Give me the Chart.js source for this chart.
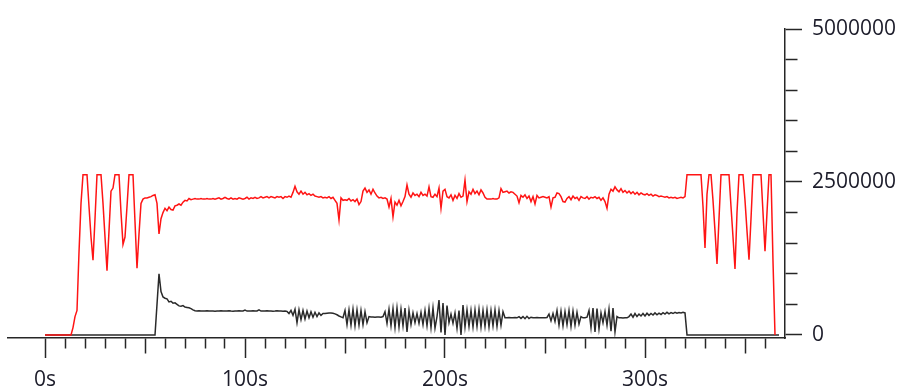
<!DOCTYPE html>
<html><head><meta charset="utf-8">
<script src="https://cdn.jsdelivr.net/npm/chart.js@4/dist/chart.umd.min.js"></script>
<style>html,body{margin:0;padding:0;background:#fff;overflow:hidden;}</style>
</head><body>
<canvas id="c" width="897" height="392"></canvas>
<script>
// sample time of the first value and step between samples (seconds)
const sampleStart = 0;
const sampleStep = 1;

// red series, one value per second, t = 0..365
const redValues = [
0,0,0,0,0,0,0,0,0,0,
0,0,0,0,120000,300000,400000,1350000,2150000,2620000,
2620000,2620000,2100000,1600000,1220000,1900000,2620000,2620000,2620000,2150000,
1600000,1050000,1700000,2350000,2400000,2620000,2620000,2620000,2000000,1480000,
1600000,2100000,2620000,2620000,2620000,1850000,1090000,1650000,2150000,2220000,
2240000,2240000,2250000,2260000,2280000,2290000,2150000,1650000,1900000,2000000,
2070000,2030000,2090000,2050000,2040000,2110000,2120000,2140000,2120000,2170000,
2200000,2190000,2230000,2210000,2220000,2230000,2220000,2220000,2230000,2220000,
2220000,2230000,2220000,2220000,2230000,2220000,2230000,2240000,2220000,2230000,
2250000,2230000,2220000,2240000,2220000,2230000,2220000,2240000,2230000,2220000,
2230000,2250000,2220000,2240000,2230000,2250000,2230000,2240000,2260000,2240000,
2250000,2260000,2240000,2260000,2250000,2240000,2260000,2250000,2260000,2230000,
2260000,2250000,2270000,2250000,2330000,2430000,2340000,2300000,2350000,2300000,
2330000,2290000,2310000,2280000,2300000,2270000,2260000,2250000,2260000,2240000,
2250000,2240000,2260000,2230000,2250000,2200000,2150000,1880000,2240000,2200000,
2210000,2200000,2230000,2190000,2210000,2180000,2220000,2130000,2180000,2350000,
2400000,2330000,2370000,2300000,2380000,2320000,2270000,2240000,2250000,2230000,
2240000,2220000,2090000,2230000,1930000,2170000,2120000,2200000,2110000,2180000,
2260000,2450000,2300000,2250000,2320000,2280000,2300000,2260000,2330000,2280000,
2300000,2270000,2420000,2260000,2250000,2300000,2260000,2400000,2070000,2350000,
2380000,2260000,2240000,2290000,2200000,2280000,2230000,2310000,2250000,2270000,
2530000,2180000,2340000,2300000,2380000,2310000,2350000,2290000,2370000,2320000,
2250000,2220000,2220000,2220000,2230000,2220000,2220000,2240000,2390000,2330000,
2340000,2350000,2320000,2340000,2330000,2300000,2270000,2160000,2280000,2250000,
2290000,2230000,2270000,2180000,2260000,2140000,2280000,2240000,2250000,2260000,
2250000,2240000,2260000,2090000,2240000,2250000,2320000,2310000,2260000,2180000,
2170000,2230000,2260000,2210000,2270000,2230000,2250000,2200000,2260000,2240000,
2230000,2260000,2220000,2250000,2240000,2260000,2230000,2250000,2200000,2240000,
2180000,2070000,2300000,2380000,2350000,2420000,2370000,2340000,2390000,2330000,
2360000,2320000,2350000,2310000,2340000,2300000,2330000,2290000,2320000,2300000,
2290000,2310000,2280000,2300000,2270000,2290000,2280000,2260000,2270000,2260000,
2250000,2260000,2240000,2250000,2240000,2250000,2230000,2240000,2250000,2240000,
2260000,2620000,2620000,2620000,2620000,2620000,2620000,2620000,2620000,2100000,
1420000,2300000,2620000,2620000,2200000,1700000,1160000,1900000,2620000,2620000,
2620000,2620000,2620000,2100000,1600000,1080000,2000000,2620000,2620000,2620000,
2200000,1700000,1230000,1900000,2620000,2620000,2620000,2620000,2620000,2000000,
1370000,2000000,2620000,2620000,1200000,0
];

// black series, one value per second, t = 0..367
const blackValues = [
0,0,0,0,0,0,0,0,0,0,
0,0,0,0,0,0,0,0,0,0,
0,0,0,0,0,0,0,0,0,0,
0,0,0,0,0,0,0,0,0,0,
0,0,0,0,0,0,0,0,0,0,
0,0,0,0,0,0,500000,1000000,710000,620000,
600000,590000,540000,550000,520000,525000,500000,475000,470000,480000,
455000,450000,445000,430000,410000,395000,390000,395000,390000,392000,
390000,395000,390000,392000,390000,388000,392000,390000,395000,390000,
392000,390000,395000,390000,388000,392000,390000,395000,390000,392000,
405000,390000,392000,390000,395000,390000,392000,410000,390000,392000,
390000,395000,390000,392000,388000,390000,395000,390000,392000,388000,
390000,385000,350000,400000,320000,420000,200000,410000,250000,400000,
260000,390000,280000,380000,290000,370000,300000,360000,320000,350000,
350000,355000,360000,360000,355000,345000,330000,310000,295000,280000,
400000,170000,410000,160000,420000,150000,410000,160000,400000,170000,
380000,200000,300000,295000,295000,290000,295000,295000,290000,300000,
380000,190000,420000,150000,430000,120000,440000,130000,420000,150000,
440000,50000,400000,170000,360000,200000,350000,190000,370000,170000,
400000,150000,430000,120000,440000,110000,300000,570000,40000,520000,
0,480000,200000,340000,190000,360000,110000,400000,0,490000,
130000,410000,140000,400000,130000,410000,140000,420000,130000,400000,
140000,410000,130000,400000,150000,410000,140000,400000,160000,380000,
280000,280000,285000,280000,280000,285000,280000,300000,270000,300000,
265000,305000,270000,290000,280000,280000,285000,280000,280000,280000,
280000,285000,340000,230000,350000,220000,400000,160000,390000,150000,
380000,170000,400000,140000,390000,160000,370000,180000,300000,280000,
280000,290000,400000,120000,440000,50000,430000,100000,360000,200000,
380000,160000,420000,60000,440000,50000,300000,280000,280000,275000,
280000,280000,300000,340000,290000,350000,300000,340000,310000,350000,
310000,355000,320000,350000,325000,360000,330000,355000,335000,365000,
340000,370000,345000,365000,350000,370000,355000,365000,360000,370000,
360000,0,0,0,0,0,0,0,0,0,
0,0,0,0,0,0,0,0,0,0,
0,0,0,0,0,0,0,0,0,0,
0,0,0,0,0,0,0,0,0,0,
0,0,0,0,0,0,0,0
];

// axis ticks
const xTickValues = [0,10,20,30,40,50,60,70,80,90,100,110,120,130,140,150,160,170,180,190,200,210,220,230,240,250,260,270,280,290,300,310,320,330,340,350,360];
const xLabelValues = [0,100,200,300];
const xMediumValues = [50,150,250,350];
const yTickValues = [0,500000,1000000,1500000,2000000,2500000,3000000,3500000,4000000,4500000,5000000];
const yLabelValues = [0,2500000,5000000];

const toPoints = arr => arr.map((v, i) => ({ x: sampleStart + i * sampleStep, y: v }));

const axisColor = '#262626';
const textColor = '#1c1c2a';
const tickFont = { family: "'Open Sans', 'Noto Sans', sans-serif", size: 21, lineHeight: 1 };

new Chart(document.getElementById('c'), {
  type: 'line',
  data: {
    datasets: [
      { data: toPoints(redValues), borderColor: '#ff1414', borderWidth: 1.5, pointRadius: 0, tension: 0, fill: false },
      { data: toPoints(blackValues), borderColor: '#2a2a2a', borderWidth: 1.5, pointRadius: 0, tension: 0, fill: false }
    ]
  },
  options: {
    responsive: false,
    animation: false,
    layout: { padding: { left: 8, top: 29, right: 2, bottom: 1 } },
    plugins: { legend: { display: false }, tooltip: { enabled: false } },
    scales: {
      x: {
        type: 'linear',
        position: 'bottom',
        min: -18.5,
        max: 370,
        afterBuildTicks: s => { s.ticks = xTickValues.map(v => ({ value: v })); },
        afterFit: s => { s.height = 53; },
        border: { display: true, color: axisColor, width: 1.5 },
        grid: {
          display: true, drawOnChartArea: false, drawTicks: true,
          tickLength: 20, tickColor: axisColor, tickWidth: 1.5,
          tickBorderDash: ctx => {
            const v = ctx.tick ? ctx.tick.value : 0;
            if (xLabelValues.includes(v)) return [];
            if (xMediumValues.includes(v)) return [15, 40];
            return [10, 40];
          }
        },
        ticks: {
          autoSkip: false, maxRotation: 0, minRotation: 0, padding: 12,
          color: textColor, font: tickFont,
          callback: v => xLabelValues.includes(v) ? v + 's' : ''
        }
      },
      y: {
        type: 'linear',
        position: 'right',
        min: -50000,
        max: 5000000,
        afterBuildTicks: s => { s.ticks = yTickValues.map(v => ({ value: v })); },
        afterFit: s => { s.width = 110; },
        border: { display: true, color: axisColor, width: 1.5 },
        grid: {
          display: true, drawOnChartArea: false, drawTicks: true,
          tickLength: 17, tickColor: axisColor, tickWidth: 1.5,
          tickBorderDash: ctx => {
            const v = ctx.tick ? ctx.tick.value : 0;
            return yLabelValues.includes(v) ? [] : [12, 40];
          }
        },
        ticks: {
          autoSkip: false, padding: 10,
          color: textColor, font: tickFont,
          callback: v => yLabelValues.includes(v) ? String(v) : ''
        }
      }
    }
  }
});
</script>
</body></html>
